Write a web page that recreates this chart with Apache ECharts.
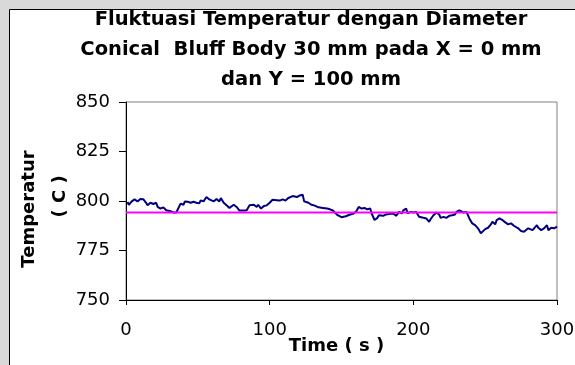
<!DOCTYPE html>
<html>
<head>
<meta charset="utf-8">
<script src="https://cdn.jsdelivr.net/npm/echarts/dist/echarts.min.js"></script>
<style>
  html, body { margin: 0; padding: 0; background: #d9d9d9; }
  #chart { width: 575px; height: 365px; }
</style>
</head>
<body>
<div id="chart"></div>
<script>
// Temperature log at X = 0 mm, Y = 100 mm (seconds, degrees C)
const timeSec = [
  1, 2, 4, 5, 6, 8, 10, 12, 14, 15, 17, 19, 21, 22, 24, 26, 28, 29, 31, 33,
  35, 36, 38, 40, 41, 43, 45, 47, 49, 51, 52, 54, 56, 58, 59, 61, 63, 65, 66, 68,
  70, 72, 73, 75, 77, 79, 80, 82, 84, 86, 87, 89, 91, 92, 94, 96, 98, 100, 102, 105,
  107, 109, 111, 113, 114, 116, 117, 119, 121, 123, 124, 127, 129, 131, 134, 137, 138, 140, 142, 144,
  145, 147, 150, 151, 153, 156, 158, 160, 162, 164, 166, 168, 170, 171, 173, 175, 176, 179, 181, 182,
  184, 186, 188, 190, 192, 193, 195, 196, 198, 200, 202, 204, 207, 209, 211, 212, 214, 216, 218, 219,
  221, 223, 225, 227, 229, 230, 232, 233, 235, 237, 239, 241, 243, 245, 247, 248, 250, 252, 254, 255,
  257, 258, 260, 262, 264, 266, 268, 270, 273, 275, 277, 280, 281, 283, 286, 287, 289, 291, 293, 294,
  296, 298, 300
];
const tempC = [
  799.5, 798.1, 799.8, 799.1, 800.8, 799.8, 801.0, 800.9, 799.1, 797.8, 799.1, 798.5, 799.1, 797.0, 796.2, 796.8, 795.3, 795.8, 794.8, 794.2,
  794.2, 795.2, 798.7, 798.1, 799.8, 799.6, 799.1, 799.6, 799.1, 798.8, 800.3, 799.8, 802.0, 800.8, 801.5, 799.8, 801.0, 799.8, 801.5, 799.1,
  797.8, 796.5, 796.2, 798.1, 797.0, 795.2, 794.8, 795.2, 795.3, 797.8, 798.7, 798.1, 797.0, 798.1, 796.2, 797.5, 797.8, 799.1, 800.6, 800.4,
  800.2, 800.8, 800.2, 801.5, 800.8, 802.5, 801.5, 802.0, 802.8, 803.2, 799.8, 799.1, 798.1, 797.8, 796.8, 796.5, 795.6, 796.2, 795.8, 795.2,
  794.3, 793.0, 791.8, 791.2, 792.3, 793.2, 793.5, 794.5, 797.0, 796.2, 796.5, 795.8, 796.2, 793.7, 790.4, 791.5, 792.8, 792.5, 793.2, 792.5,
  793.5, 793.7, 792.5, 794.5, 793.7, 795.3, 796.2, 793.8, 794.5, 794.2, 794.5, 792.0, 791.5, 791.2, 789.5, 790.8, 792.8, 794.2, 793.2, 791.5,
  792.0, 791.5, 792.5, 792.8, 793.2, 794.5, 795.3, 795.0, 794.2, 794.5, 791.2, 788.7, 787.8, 786.2, 783.7, 784.2, 785.8, 786.5, 788.2, 789.5,
  788.2, 790.4, 791.2, 790.4, 789.2, 788.2, 788.7, 787.5, 786.2, 784.8, 784.5, 786.2, 787.0, 785.3, 787.8, 786.5, 785.3, 786.2, 787.8, 785.3,
  786.5, 786.2, 787.0
];
// Average temperature over the run
const meanTemp = 794.2;
const timeRange = [0, 300];

const titleLines = [
  'Fluktuasi Temperatur dengan Diameter',
  'Conical  Bluff Body 30 mm pada X = 0 mm',
  'dan Y = 100 mm'
];
const xName = 'Time ( s )';
const yName = 'Temperatur\n    ( C )';

const chart = echarts.init(document.getElementById('chart'), null, { renderer: 'canvas' });

chart.setOption({
  animation: false,
  backgroundColor: '#d9d9d9',
  graphic: {
    elements: [{
      type: 'rect',
      z: -10,
      silent: true,
      shape: { x: 9.5, y: 9.5, width: 700, height: 500 },
      style: { fill: '#ffffff', stroke: '#000000', lineWidth: 1 }
    }]
  },
  title: {
    text: titleLines.join('\n'),
    left: 311,
    top: 5,
    padding: 0,
    textAlign: 'center',
    textStyle: {
      fontFamily: 'DejaVu Sans',
      fontWeight: 'bold',
      fontSize: 19.5,
      lineHeight: 30,
      color: '#000000'
    }
  },
  grid: {
    left: 126,
    top: 102,
    right: 18,
    bottom: 65,
    containLabel: false,
    outerBoundsMode: 'none',
    show: true,
    backgroundColor: '#ffffff',
    borderColor: '#808080',
    borderWidth: 1
  },
  xAxis: {
    type: 'value',
    min: timeRange[0],
    max: timeRange[1],
    interval: 100,
    name: xName,
    nameLocation: 'middle',
    nameGap: 37,
    nameMoveOverlap: false,
    nameTextStyle: {
      fontFamily: 'DejaVu Sans',
      fontWeight: 'bold',
      fontSize: 18,
      color: '#000000',
      padding: [0, 10, 0, 0]
    },
    axisLine: { show: true, onZero: false, lineStyle: { color: '#000000', width: 1 } },
    axisTick: { show: true, inside: false, length: 5, lineStyle: { color: '#000000' } },
    axisLabel: {
      show: true,
      margin: 21,
      showMinLabel: true,
      showMaxLabel: true,
      fontFamily: 'DejaVu Sans',
      fontSize: 18,
      color: '#000000'
    },
    splitLine: { show: false }
  },
  yAxis: {
    type: 'value',
    min: 750,
    max: 850,
    interval: 25,
    name: yName,
    nameLocation: 'middle',
    nameRotate: 90,
    nameGap: 50,
    nameMoveOverlap: false,
    nameTextStyle: {
      fontFamily: 'DejaVu Sans',
      fontWeight: 'bold',
      fontSize: 18,
      lineHeight: 31,
      color: '#000000',
      padding: [0, 16, 0, 0]
    },
    axisLine: { show: true, onZero: false, lineStyle: { color: '#000000', width: 1 } },
    axisTick: { show: true, inside: false, length: 7, lineStyle: { color: '#000000' } },
    axisLabel: {
      show: true,
      margin: 16,
      showMinLabel: true,
      showMaxLabel: true,
      fontFamily: 'DejaVu Sans',
      fontSize: 18,
      color: '#000000'
    },
    splitLine: { show: false }
  },
  series: [
    {
      name: 'Temperatur',
      type: 'line',
      data: timeSec.map((t, i) => [t, tempC[i]]),
      showSymbol: false,
      symbol: 'none',
      lineStyle: { color: '#000080', width: 2 },
      itemStyle: { color: '#000080' },
      z: 2
    },
    {
      name: 'Rata-rata',
      type: 'line',
      data: timeRange.map(t => [t, meanTemp]),
      showSymbol: false,
      symbol: 'none',
      lineStyle: { color: '#ff00ff', width: 2 },
      itemStyle: { color: '#ff00ff' },
      z: 3
    }
  ]
});
</script>
</body>
</html>
